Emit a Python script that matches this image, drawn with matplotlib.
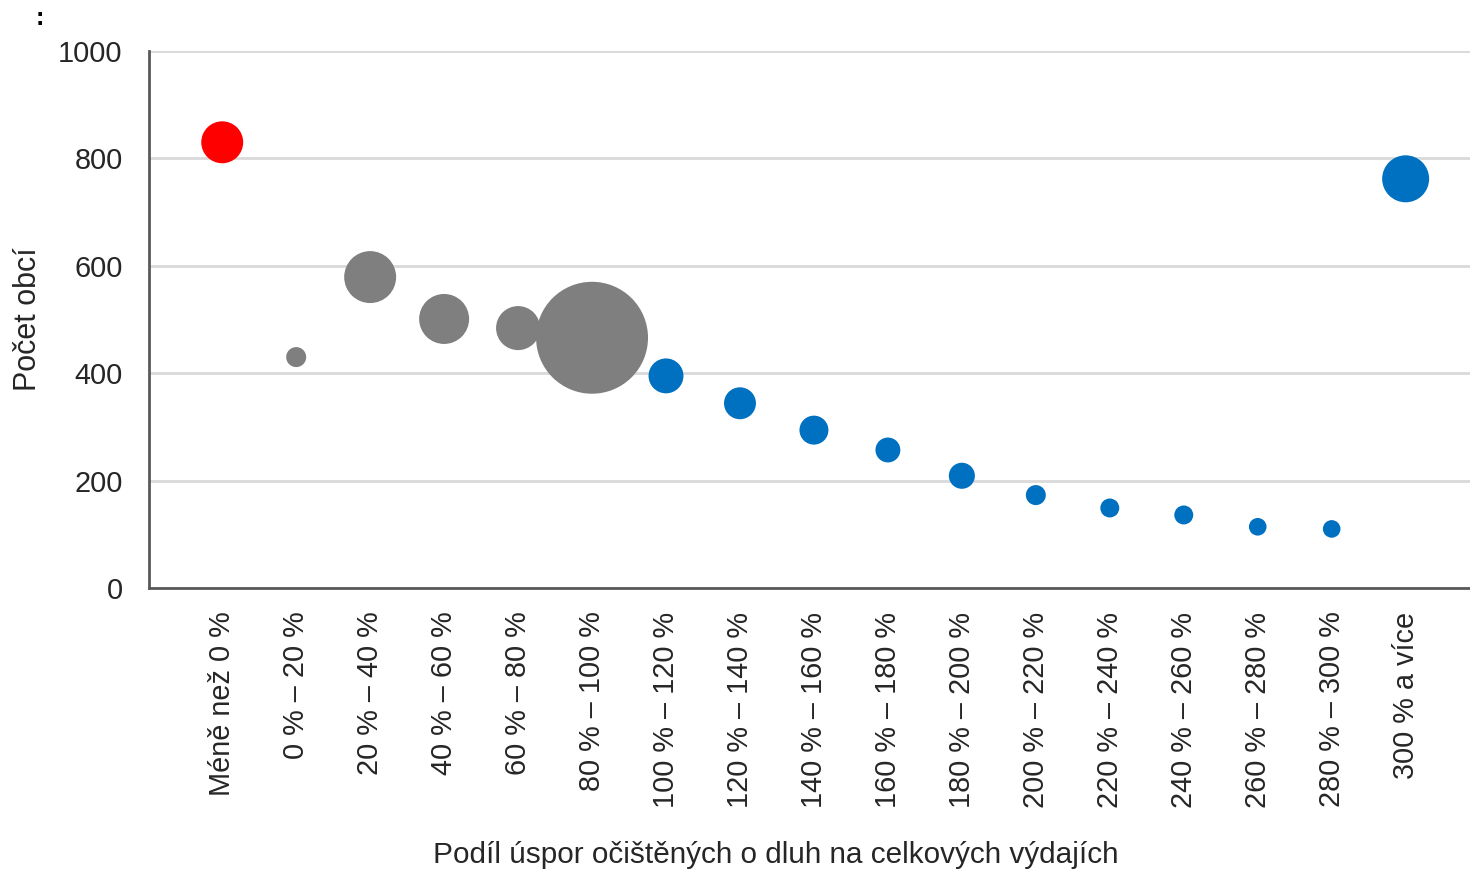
import matplotlib.pyplot as plt

# Kategorie podílu úspor a počty obcí
kategorie = [
    "Méně než 0 %", "0 % – 20 %", "20 % – 40 %", "40 % – 60 %", "60 % – 80 %",
    "80 % – 100 %", "100 % – 120 %", "120 % – 140 %", "140 % – 160 %",
    "160 % – 180 %", "180 % – 200 %", "200 % – 220 %", "220 % – 240 %",
    "240 % – 260 %", "260 % – 280 %", "280 % – 300 %", "300 % a více",
]
pocet_obci = [830, 430, 579, 501, 484, 466, 395, 344, 294, 257, 209, 173, 149, 136, 114, 110, 762]
# velikost bubliny (relativní váha skupiny)
vaha = [176, 40, 270, 250, 194, 1254, 122, 102, 84, 62, 68, 40, 36, 36, 31, 31, 221]
barvy = ["#FF0000"] + ["#7F7F7F"] * 5 + ["#0070C0"] * 11

plt.rcParams['font.family'] = ['Liberation Sans', 'DejaVu Sans']
text_color = "#262626"

fig = plt.figure(figsize=(14.7, 8.73), dpi=100)
ax = fig.add_axes([149 / 1470, 1 - 588 / 873, 1 - 149 / 1470, (588 - 51) / 873])

x = list(range(len(kategorie)))
ax.scatter(x, pocet_obci, s=[v * 5.18 for v in vaha], c=barvy, edgecolors='none', zorder=3)

ax.set_ylim(0, 1000)
ax.set_xlim(-0.99, 16.87)
ax.set_yticks([0, 200, 400, 600, 800, 1000])
ax.set_xticks(x)
ax.set_xticklabels(kategorie, rotation=90, fontsize=20.8, color=text_color)
ax.tick_params(axis='y', length=0, pad=19, labelsize=20.8, labelcolor=text_color)
ax.tick_params(axis='x', length=0, pad=17)

ax.grid(axis='y', color='#D9D9D9', linewidth=2, zorder=0)
ax.set_axisbelow(True)
for side in ['top', 'right']:
    ax.spines[side].set_visible(False)
for side in ['left', 'bottom']:
    ax.spines[side].set_color('#595959')
    ax.spines[side].set_linewidth(2)

fig.text(0.019, 1 - 319 / 873, "Počet obcí", rotation=90, ha='center', va='center',
         fontsize=22, color=text_color)
fig.text(776 / 1470, 1 - 855 / 873, "Podíl úspor očištěných o dluh na celkových výdajích",
         ha='center', va='center', fontsize=21.4, color=text_color)
fig.text(40 / 1470, 1 - 18 / 873, ":", ha='center', va='center', fontsize=18,
         fontweight='bold', color='black')

fig.savefig('out.png', dpi=100)
